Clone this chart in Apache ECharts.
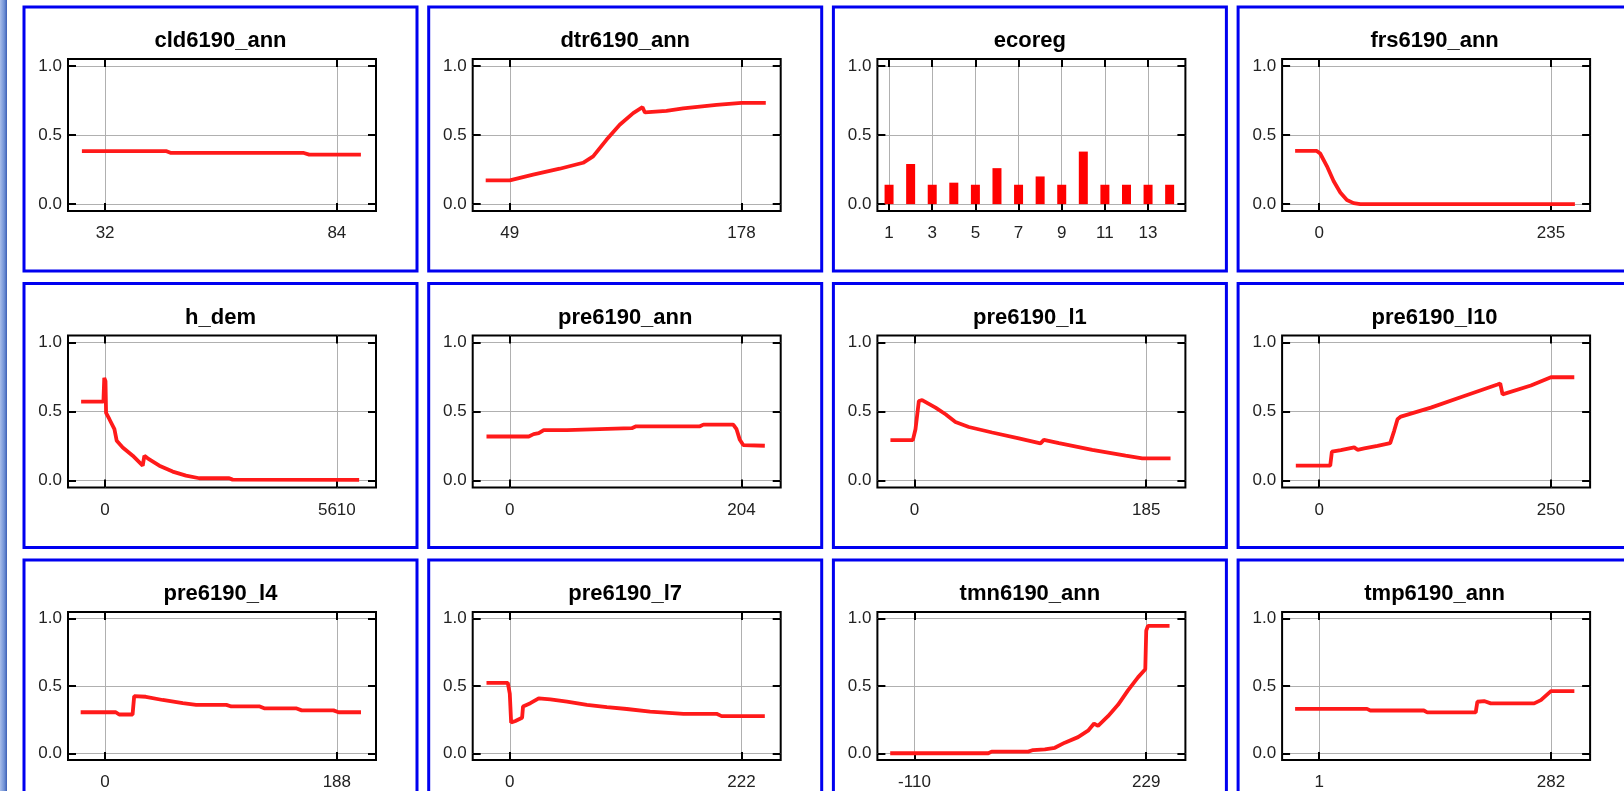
<!DOCTYPE html>
<html>
<head>
<meta charset="utf-8">
<script src="https://cdn.jsdelivr.net/npm/echarts@6/dist/echarts.min.js"></script>
<style>
  html, body { margin: 0; padding: 0; background: #fff; }
  #chart { width: 1624px; height: 791px; }
</style>
</head>
<body>
<div id="chart"></div>
<script>
// Response curves, one small panel per predictor variable
const titles = ['cld6190_ann', 'dtr6190_ann', 'ecoreg', 'frs6190_ann',
                'h_dem', 'pre6190_ann', 'pre6190_l1', 'pre6190_l10',
                'pre6190_l4', 'pre6190_l7', 'tmn6190_ann', 'tmp6190_ann'];

// labelled x ticks of each panel
const xTickValues = [[32, 84], [49, 178], [1, 3, 5, 7, 9, 11, 13], [0, 235],
                     [0, 5610], [0, 204], [0, 185], [0, 250],
                     [0, 188], [0, 222], [-110, 229], [1, 282]];
const yTickValues = [0, 0.5, 1.0];

const cld6190_ann = [[26.8, 0.383], [45.8, 0.383], [46.8, 0.37], [76.6, 0.37], [77.8, 0.358], [89.4, 0.358]];

const dtr6190_ann = [[35.6, 0.172], [49, 0.172], [62, 0.213], [76.8, 0.256], [89.8, 0.299], [95.4, 0.345],
  [102.8, 0.465], [110.2, 0.574], [117.7, 0.658], [122.9, 0.701], [124.2, 0.663], [136.2, 0.675],
  [145.5, 0.692], [154.8, 0.705], [164.1, 0.718], [178, 0.732], [191.5, 0.732]];

const ecoregClass = [1, 2, 3, 4, 5, 6, 7, 8, 9, 10, 11, 12, 13, 14];
const ecoregValue = [0.14, 0.29, 0.14, 0.155, 0.14, 0.26, 0.14, 0.2, 0.14, 0.38, 0.14, 0.14, 0.14, 0.14];

const frs6190_ann = [[-24.4, 0.385], [-2.4, 0.385], [1, 0.366], [7.8, 0.275], [14.6, 0.167], [21.4, 0.084],
  [28.1, 0.029], [34.9, 0.007], [41.7, 0], [259.3, 0]];

const h_dem = [[-580, 0.571], [-40, 0.571], [-20, 0.743], [10, 0.72], [24, 0.49], [105, 0.444], [226, 0.372],
  [282, 0.288], [427, 0.24], [669, 0.18], [911, 0.108], [951, 0.18], [1032, 0.161], [1314, 0.108],
  [1636, 0.065], [1959, 0.036], [2281, 0.017], [3006, 0.017], [3087, 0.007], [6150, 0.005]];

const pre6190_ann = [[-20.5, 0.319], [16.7, 0.319], [21, 0.336], [25.5, 0.343], [29.9, 0.365], [50.3, 0.365],
  [51.8, 0.379], [107.4, 0.379], [111.2, 0.393], [167.4, 0.393], [170.4, 0.405], [196.7, 0.405],
  [199.6, 0.372], [202.5, 0.295], [205.5, 0.257], [224.5, 0.252]];

const pre6190_l1 = [[-19.2, 0.293], [-1.3, 0.293], [0.8, 0.372], [3.5, 0.576], [6.1, 0.583], [16.8, 0.528],
  [24.8, 0.48], [32.7, 0.424], [43.4, 0.388], [62, 0.348], [83.3, 0.305], [100.6, 0.269], [103.3, 0.295],
  [115.3, 0.271], [141.9, 0.223], [168.5, 0.18], [181.8, 0.161], [204.4, 0.161]];

const pre6190_l10 = [[-25.2, 0.108], [11.9, 0.108], [13.7, 0.209], [23.4, 0.221], [37.8, 0.24], [41.4, 0.223],
  [48.6, 0.233], [62.9, 0.252], [76.6, 0.271], [80.9, 0.36], [84.5, 0.444], [88.1, 0.463], [120.5, 0.528],
  [156.5, 0.612], [192.4, 0.695], [195.3, 0.703], [197.8, 0.624], [228.4, 0.688], [250, 0.748], [275.2, 0.748]];

const pre6190_l4 = [[-19.8, 0.305], [8.7, 0.305], [11.4, 0.288], [22.3, 0.288], [23.6, 0.424], [33.1, 0.42],
  [46.7, 0.396], [63, 0.372], [73.9, 0.36], [98.4, 0.36], [102.4, 0.348], [125.5, 0.348], [129.6, 0.333],
  [155.4, 0.333], [159.5, 0.319], [185.3, 0.319], [189.4, 0.305], [207.6, 0.305]];

const pre6190_l7 = [[-22.3, 0.523], [-1.9, 0.523], [0, 0.444], [1.3, 0.228], [5.4, 0.24], [11.8, 0.264],
  [12.7, 0.348], [19.7, 0.372], [27.7, 0.408], [38.9, 0.4], [54.8, 0.384], [73.9, 0.36], [93, 0.343],
  [112.1, 0.329], [134.4, 0.309], [166.3, 0.293], [198.1, 0.293], [202.9, 0.276], [244.3, 0.276]];

const tmn6190_ann = [[-145.5, 0], [-2, 0], [2.8, 0.012], [56.3, 0.012], [63.6, 0.024], [80.7, 0.029],
  [95.3, 0.041], [109.9, 0.079], [129.3, 0.12], [143.9, 0.168], [152.7, 0.221], [158.5, 0.204],
  [173.1, 0.276], [187.7, 0.36], [202.3, 0.468], [216.9, 0.564], [227.6, 0.624], [229, 0.911],
  [231.5, 0.947], [263.1, 0.947]];

const tmp6190_ann = [[-28.2, 0.33], [59, 0.33], [63, 0.318], [127.9, 0.318], [132, 0.304], [190.8, 0.304],
  [192.8, 0.383], [200.9, 0.388], [209, 0.371], [261.7, 0.371], [269.8, 0.395], [282, 0.462], [310.4, 0.462]];

const panelCurves = [cld6190_ann, dtr6190_ann, null, frs6190_ann,
                     h_dem, pre6190_ann, pre6190_l1, pre6190_l10,
                     pre6190_l4, pre6190_l7, tmn6190_ann, tmp6190_ann];

const FONT = "'Liberation Sans', Arial, sans-serif";
const BOX_W = 308, BOX_H = 152;
const BOX_X0 = 68, BOX_Y0 = 59, COL_STEP = 404.7, ROW_STEP = 276.5;

const grid = [], xAxis = [], yAxis = [], series = [], title = [];
const graphic = [{
  type: 'rect', silent: true, z: 0,
  shape: { x: 0, y: 0, width: 7, height: 791 },
  style: { fill: new echarts.graphic.LinearGradient(0, 0, 1, 0, [
    { offset: 0, color: '#a8bde9' }, { offset: 0.6, color: '#7192d6' }, { offset: 1, color: '#3d5fb5' }]) }
}];

const tickStyle = { show: true, inside: true, length: 8, lineStyle: { color: '#000', width: 2 } };
const hiddenLine = { show: false, onZero: false };

titles.forEach((name, i) => {
  const r = Math.floor(i / 4), c = i % 4;
  const gx = BOX_X0 + c * COL_STEP, gy = BOX_Y0 + r * ROW_STEP;
  const ticks = xTickValues[i];

  // x range: the two labelled ticks sit inside a padded extent
  let xmin, xmax;
  if (name === 'ecoreg') {
    xmin = 0.46; xmax = 14.73;
  } else {
    const span = ticks[1] - ticks[0];
    xmin = ticks[0] - 0.16 * span;
    xmax = ticks[1] + 0.169 * span;
  }

  graphic.push({
    type: 'rect', silent: true, z: 0,
    shape: { x: gx - 44, y: gy - 52, width: 393, height: 264 },
    style: { fill: 'none', stroke: '#0000f0', lineWidth: 3 }
  });

  grid.push({ left: gx, top: gy, width: BOX_W, height: BOX_H, show: true,
              borderColor: '#000', borderWidth: 2, backgroundColor: '#fff' });

  title.push({
    text: name, left: gx + 152.5, top: gy - 29, textAlign: 'center', padding: 0,
    textStyle: { fontFamily: FONT, fontWeight: 'bold', fontSize: 22, color: '#000' }
  });

  xAxis.push({
    gridIndex: i, type: 'value', min: xmin, max: xmax, position: 'bottom',
    axisLine: hiddenLine,
    axisTick: Object.assign({ customValues: ticks }, tickStyle),
    axisLabel: { customValues: ticks, margin: 14, fontSize: 17, color: '#222', fontFamily: FONT,
                 formatter: v => String(v) },
    splitLine: { show: true, lineStyle: { color: '#b0b0b0', width: 1 } }
  });
  xAxis.push({
    gridIndex: i, type: 'value', min: xmin, max: xmax, position: 'top',
    axisLine: hiddenLine,
    axisTick: Object.assign({ customValues: ticks }, tickStyle),
    axisLabel: { show: false }, splitLine: { show: false }
  });
  yAxis.push({
    gridIndex: i, type: 'value', min: -0.05, max: 1.05, position: 'left',
    axisLine: hiddenLine,
    axisTick: Object.assign({ customValues: yTickValues }, tickStyle),
    axisLabel: { customValues: yTickValues, margin: 6, fontSize: 17, color: '#222', fontFamily: FONT,
                 formatter: v => v.toFixed(1) },
    splitLine: { show: true, lineStyle: { color: '#b0b0b0', width: 1 } }
  });
  yAxis.push({
    gridIndex: i, type: 'value', min: -0.05, max: 1.05, position: 'right',
    axisLine: hiddenLine,
    axisTick: Object.assign({ customValues: yTickValues }, tickStyle),
    axisLabel: { show: false }, splitLine: { show: false }
  });

  if (name === 'ecoreg') {
    series.push({
      type: 'bar', xAxisIndex: 2 * i, yAxisIndex: 2 * i, barWidth: 9,
      itemStyle: { color: '#ff0000' },
      data: ecoregClass.map((k, j) => [k, ecoregValue[j]])
    });
  } else {
    series.push({
      type: 'line', xAxisIndex: 2 * i, yAxisIndex: 2 * i, data: panelCurves[i],
      showSymbol: false, symbol: 'none', z: 3,
      lineStyle: { color: '#ff1a1a', width: 3.8 }
    });
  }
});

const chart = echarts.init(document.getElementById('chart'), null, { renderer: 'canvas' });
chart.setOption({
  animation: false,
  backgroundColor: '#fff',
  title, grid, xAxis, yAxis, series, graphic
});
</script>
</body>
</html>
